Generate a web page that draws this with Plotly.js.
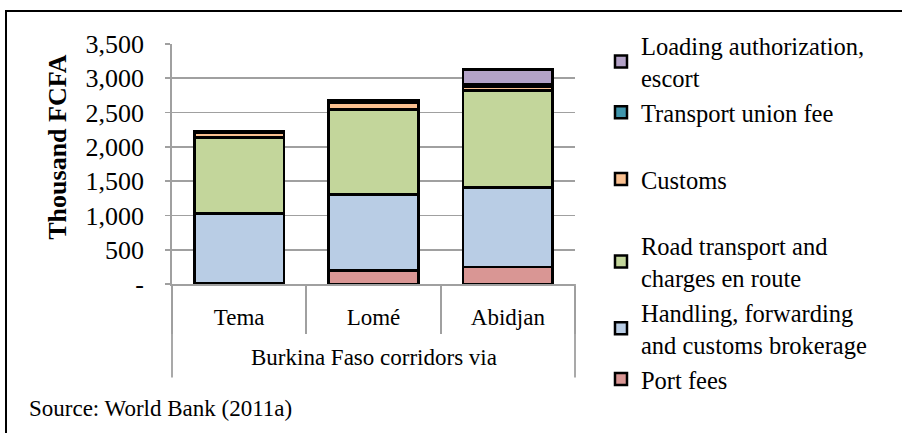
<!DOCTYPE html>
<html>
<head>
<meta charset="utf-8">
<script src="https://cdn.plot.ly/plotly-3.0.1.min.js"></script>
<style>
  html, body { margin: 0; padding: 0; width: 902px; height: 433px; overflow: hidden; background: #fff; }
  #chart { position: absolute; left: 0; top: 0; width: 902px; height: 433px; }
  #frame { position: absolute; left: 5px; top: 10px; width: 1000px; height: 1000px; border: 2px solid #000; pointer-events: none; }
</style>
</head>
<body>
<div id="chart"></div>
<div id="frame"></div>
<script>
// Categories (ports of the Burkina Faso corridors)
const categories = ["Tema", "Lomé", "Abidjan"];
const groupLabel = "Burkina Faso corridors via";

// Series values, thousand FCFA
const portFees       = [15, 200, 250];
const handling       = [1015, 1105, 1160];
const roadTransport  = [1110, 1240, 1410];
const customs        = [70, 95, 60];
const unionFee       = [15, 35, 30];
const loadingEscort  = [0, 0, 215];

// Series names (legend)
const seriesNames = [
  "Port fees",
  "Handling, forwarding<br>and customs brokerage",
  "Road transport and<br>charges en route",
  "\u00a0<br>Customs<br>\u00a0",
  "Transport union fee",
  "Loading authorization,<br>escort"
];
const seriesValues = [portFees, handling, roadTransport, customs, unionFee, loadingEscort];
const seriesColors = ["#D99694", "#B9CDE5", "#C3D69B", "#FAC090", "#3F95AC", "#B3A2C7"];

// Y axis ticks
const yTickVals = [0, 500, 1000, 1500, 2000, 2500, 3000, 3500];
const yTickText = ["-", "500", "1,000", "1,500", "2,000", "2,500", "3,000", "3,500"];

const FONT = "Times New Roman, Liberation Serif, serif";
const GRID = "#A0A0A0";

const traces = seriesValues.map((vals, i) => ({
  type: "bar",
  name: seriesNames[i],
  x: categories,
  y: vals,
  marker: { color: seriesColors[i], line: { color: "#000", width: 2.5 } },
  hoverinfo: "skip"
}));

const layout = {
  width: 902,
  height: 433,
  margin: { l: 172, r: 327, t: 43.5, b: 149.2, pad: 0 },
  paper_bgcolor: "#fff",
  plot_bgcolor: "#fff",
  barmode: "stack",
  bargap: 0.333,
  showlegend: true,
  font: { family: FONT, color: "#000", size: 23 },
  xaxis: {
    type: "category",
    tickson: "boundaries",
    ticks: "outside",
    ticklen: 48,
    tickwidth: 1.8,
    tickcolor: GRID,
    showline: true,
    linecolor: GRID,
    linewidth: 1.8,
    showgrid: false,
    tickfont: { family: FONT, size: 23, color: "#000" },
    ticklabelstandoff: 12,
    fixedrange: true
  },
  yaxis: {
    range: [0, 3500],
    tickvals: yTickVals,
    ticktext: yTickText,
    ticks: "outside",
    ticklen: 5,
    tickwidth: 1.8,
    tickcolor: GRID,
    showline: true,
    linecolor: GRID,
    linewidth: 1.8,
    showgrid: true,
    gridcolor: GRID,
    gridwidth: 1.8,
    zeroline: false,
    tickfont: { family: FONT, size: 26, color: "#000" },
    ticklabelstandoff: 16,
    fixedrange: true
  },
  legend: {
    x: 1.0645,
    xanchor: "left",
    y: 1.087,
    yanchor: "top",
    traceorder: "reversed",
    maxheight: 1,
    font: { family: FONT, size: 24.5, color: "#000" },
    bgcolor: "rgba(0,0,0,0)",
    itemclick: false,
    itemdoubleclick: false
  },
  shapes: [
    { type: "line", xref: "paper", yref: "paper", x0: 0, x1: 0, y0: 0, y1: -0.39, line: { color: GRID, width: 1.8 } },
    { type: "line", xref: "paper", yref: "paper", x0: 1, x1: 1, y0: 0, y1: -0.39, line: { color: GRID, width: 1.8 } }
  ],
  annotations: [
    { text: groupLabel, xref: "paper", yref: "paper", x: 0.5, y: -0.305, xanchor: "center", yanchor: "middle",
      showarrow: false, font: { family: FONT, size: 23, color: "#000" } },
    { text: "Source: World Bank (2011a)", xref: "paper", yref: "paper", x: -0.36, y: -0.52, xanchor: "left", yanchor: "middle",
      showarrow: false, font: { family: FONT, size: 23, color: "#000" } },
    { text: "<b>Thousand FCFA</b>", xref: "paper", yref: "paper", x: -0.284, y: 0.57, xanchor: "center", yanchor: "middle",
      textangle: -90, showarrow: false, font: { family: FONT, size: 26, color: "#000" } }
  ]
};

Plotly.newPlot("chart", traces, layout, { displayModeBar: false, staticPlot: true });
</script>
</body>
</html>
